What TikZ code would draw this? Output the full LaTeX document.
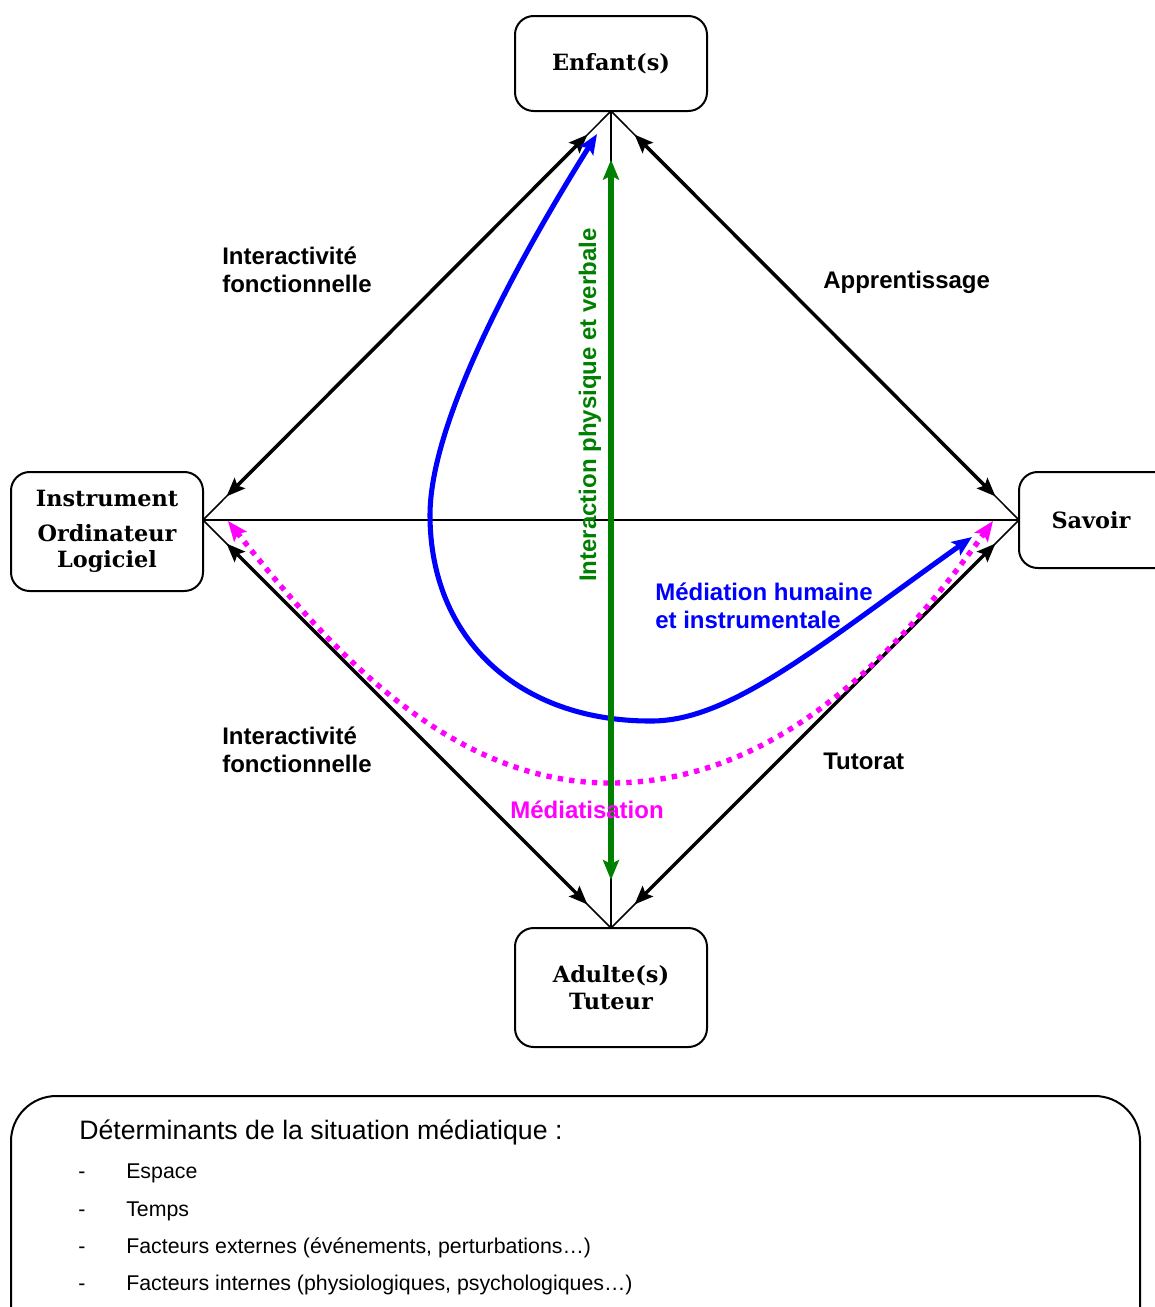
\documentclass[tikz,border=0pt]{standalone}
\usepackage{fontspec}
\setmainfont{Liberation Sans}
\newfontfamily\serifb{DejaVu Serif}
\usetikzlibrary{arrows.meta,calc}
\definecolor{dgreen}{RGB}{0,128,0}
\definecolor{mag}{RGB}{255,0,255}
\begin{document}
\begin{tikzpicture}[x=0.75pt,y=-0.75pt,
  box/.style={draw, line width=1.5pt, rounded corners=14pt, inner sep=0pt, outer sep=0pt,
    minimum width=144pt, align=center, font=\serifb\bfseries\fontsize{16.8}{20}\selectfont},
  thinline/.style={line width=1.1pt},
  biarrow/.style={line width=2.6pt, {Stealth[length=14pt,width=11pt,inset=2.5pt]}-{Stealth[length=14pt,width=11pt,inset=2.5pt]},
    shorten <=25pt, shorten >=25pt},
  lbl/.style={font=\bfseries\fontsize{18}{21}\selectfont, align=left, inner sep=0pt},
  item/.style={font=\fontsize{16}{19}\selectfont, inner sep=0pt, anchor=base west}
]
\useasboundingbox (0,0) rectangle (1155,1307);

% nodes
\node[box, minimum height=71.25pt] (enf) at (611,63.5) {Enfant(s)};
\node[box, minimum height=89.25pt] (inst) at (107,531.5) {Instrument\\[6pt]Ordinateur\\Logiciel};
\node[box, minimum height=72pt] (sav) at (1115,520) {};
\node[font=\serifb\bfseries\fontsize{16.8}{20}\selectfont, inner sep=0pt] (savt) at (1091,520) {Savoir};
\node[box, minimum height=89.25pt] (adu) at (611,987.5) {Adulte(s)\\Tuteur};

\coordinate (E) at (enf.south);
\coordinate (A) at (adu.north);
\coordinate (S) at (sav.west);
\coordinate (I) at (inst.east |- S);

% thin frame lines
\draw[thinline] (E) -- (A);
\draw[thinline] (I) -- (S);
\draw[thinline] (E) -- (I);
\draw[thinline] (E) -- (S);
\draw[thinline] (A) -- (I);
\draw[thinline] (A) -- (S);

% thick double arrows
\draw[biarrow] (E) -- (I);
\draw[biarrow] (E) -- (S);
\draw[biarrow] (A) -- (I);
\draw[biarrow] (A) -- (S);

% magenta dotted mediatisation
\coordinate (m1) at (228,521);
\coordinate (m2) at (993,521);
\draw[mag, line width=4pt, dash pattern=on 4pt off 4.6pt,
  {Stealth[length=15pt,width=12pt,inset=3pt]}-{Stealth[length=15pt,width=12pt,inset=3pt]}]
  (m1) .. controls (330,650) and (450,783) .. (610,783)
       .. controls (780,783) and (900,650) .. (m2);

% blue mediation curve
\coordinate (b1) at (972,537);
\coordinate (b2) at (597,134);
\draw[blue, line width=3.8pt,
  {Stealth[length=15pt,width=12pt,inset=3pt]}-{Stealth[length=15pt,width=12pt,inset=3pt]}]
  (b1) .. controls (820,645) and (730,722) .. (650,721)
       .. controls (520,721) and (430,640) .. (430,515)
       .. controls (430,410) and (540,225) .. (b2);

% green vertical arrow
\draw[dgreen, line width=3.8pt,
  {Stealth[length=15pt,width=12pt,inset=3pt]}-{Stealth[length=15pt,width=12pt,inset=3pt]},
  shorten <=36.5pt, shorten >=36pt] (E) -- (A);

% labels
\node[lbl, anchor=north west] (l1) at (222,247) {Interactivité\\fonctionnelle};
\node[lbl, anchor=west] (l2) at (823,282) {Apprentissage};
\node[lbl, anchor=north west] (l3) at (222,727) {Interactivité\\fonctionnelle};
\node[lbl, anchor=west] (l4) at (823,761) {Tutorat};
\node[lbl, anchor=north west, text=blue] (l5) at (655,583) {Médiation humaine\\et instrumentale};
\node[lbl, text=mag] (l6) at (587,810) {Médiatisation};
\node[lbl, text=dgreen, rotate=90] (l7) at (590,405) {Interaction physique et verbale};

% bottom box
\draw[line width=1.5pt, rounded corners=34pt] (11,1096) rectangle (1140,1360);
\node[font=\fontsize{20}{23}\selectfont, inner sep=0pt, anchor=base west] (t0) at (79,1139) {Déterminants de la situation médiatique :};
\node[item] (d1) at (78,1178) {-};
\node[item] (d2) at (78,1216) {-};
\node[item] (d3) at (78,1253) {-};
\node[item] (d4) at (78,1290) {-};
\node[item] (i1) at (126,1178) {Espace};
\node[item] (i2) at (126,1216) {Temps};
\node[item] (i3) at (126,1253) {Facteurs externes (événements, perturbations…)};
\node[item] (i4) at (126,1290) {Facteurs internes (physiologiques, psychologiques…)};
\end{tikzpicture}
\end{document}
